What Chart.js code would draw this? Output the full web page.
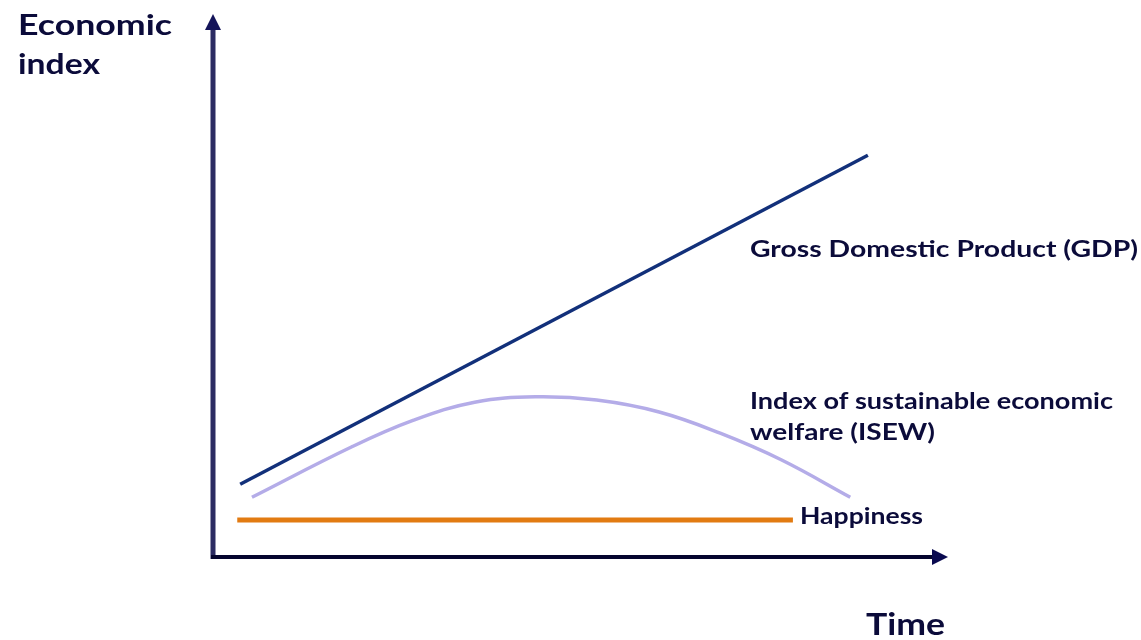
<!DOCTYPE html>
<html>
<head>
<meta charset="utf-8">
<script src="https://cdn.jsdelivr.net/npm/chart.js@4.4.1/dist/chart.umd.min.js"></script>
<style>
  html, body { margin: 0; padding: 0; background: #ffffff; }
  #wrap { width: 1141px; height: 640px; }
</style>
</head>
<body>
<div id="wrap"><canvas id="c" width="1141" height="640"></canvas></div>
<script>
// ---- Data (conceptual index values, time 0–100, index 0–100) ----
const gdpTime = [3.7, 89.1];
const gdpValues = [13.4, 74.0];

const isewTime = [5.3, 18.9, 27.3, 35.6, 43.9, 52.2, 60.7, 69.0, 77.3, 86.7];
const isewValues = [11.0, 20.3, 25.2, 28.5, 29.5, 28.9, 26.7, 22.8, 17.9, 11.0];

const happinessTime = [3.3, 78.9];
const happinessValues = [6.8, 6.8];

const seriesNames = ['Gross Domestic Product (GDP)', 'Index of sustainable economic welfare (ISEW)', 'Happiness'];
const yAxisTitle = ['Economic', 'index'];
const xAxisTitle = 'Time';
const gdpLabel = ['Gross Domestic Product (GDP)'];
const isewLabel = ['Index of sustainable economic', 'welfare (ISEW)'];
const happinessLabel = ['Happiness'];

const toPoints = (xs, ys) => xs.map((x, i) => ({ x: x, y: ys[i] }));

const FONT = 'Lato, "Open Sans", "DejaVu Sans", sans-serif';
const TEXT_COLOR = '#0b0b3a';

function fitText(ctx, text, left, baseline, size, targetWidth) {
  ctx.save();
  ctx.font = 'bold ' + size + 'px ' + FONT;
  ctx.fillStyle = TEXT_COLOR;
  ctx.textAlign = 'left';
  ctx.textBaseline = 'alphabetic';
  const w = ctx.measureText(text).width;
  const sx = targetWidth / w;
  ctx.translate(left, baseline);
  ctx.scale(sx, 1);
  ctx.fillText(text, 0, 0);
  ctx.restore();
}

const axesPlugin = {
  id: 'arrowAxes',
  afterDraw(chart) {
    const ctx = chart.ctx;
    const a = chart.chartArea;
    ctx.save();
    // Y axis
    ctx.strokeStyle = '#2b2b62';
    ctx.lineWidth = 5;
    ctx.beginPath();
    ctx.moveTo(a.left, a.bottom + 2);
    ctx.lineTo(a.left, a.top + 12);
    ctx.stroke();
    ctx.fillStyle = '#14145a';
    ctx.beginPath();
    ctx.moveTo(a.left, a.top);
    ctx.lineTo(a.left - 8, a.top + 16);
    ctx.lineTo(a.left + 8, a.top + 16);
    ctx.closePath();
    ctx.fill();
    // X axis
    ctx.strokeStyle = '#05052e';
    ctx.lineWidth = 4;
    ctx.beginPath();
    ctx.moveTo(a.left - 2, a.bottom);
    ctx.lineTo(a.right - 12, a.bottom);
    ctx.stroke();
    ctx.fillStyle = '#0a0a50';
    ctx.beginPath();
    ctx.moveTo(a.right, a.bottom);
    ctx.lineTo(a.right - 16, a.bottom - 8);
    ctx.lineTo(a.right - 16, a.bottom + 8);
    ctx.closePath();
    ctx.fill();
    ctx.restore();

    // Titles and series labels
    fitText(ctx, yAxisTitle[0], 18, 35, 28, 154);
    fitText(ctx, yAxisTitle[1], 18, 74, 28, 82);
    fitText(ctx, xAxisTitle, 866, 635, 31, 79);
    fitText(ctx, gdpLabel[0], 750, 257, 22, 388);
    fitText(ctx, isewLabel[0], 750, 409, 22, 363);
    fitText(ctx, isewLabel[1], 750, 440, 22, 185);
    fitText(ctx, happinessLabel[0], 800, 524, 22, 123);
  }
};

new Chart(document.getElementById('c'), {
  type: 'line',
  data: {
    datasets: [
      {
        label: seriesNames[0],
        data: toPoints(gdpTime, gdpValues),
        borderColor: '#12307a',
        borderWidth: 3.5,
        pointRadius: 0,
        tension: 0
      },
      {
        label: seriesNames[1],
        data: toPoints(isewTime, isewValues),
        borderColor: '#b4ace8',
        borderWidth: 3.5,
        pointRadius: 0,
        tension: 0.4
      },
      {
        label: seriesNames[2],
        data: toPoints(happinessTime, happinessValues),
        borderColor: '#e27b12',
        borderWidth: 5,
        pointRadius: 0,
        tension: 0
      }
    ]
  },
  options: {
    responsive: false,
    animation: false,
    layout: { padding: { left: 213, right: 193, top: 14, bottom: 83 } },
    plugins: { legend: { display: false }, tooltip: { enabled: false } },
    scales: {
      x: { type: 'linear', min: 0, max: 100, display: false },
      y: { type: 'linear', min: 0, max: 100, display: false }
    }
  },
  plugins: [axesPlugin]
});
</script>
</body>
</html>
